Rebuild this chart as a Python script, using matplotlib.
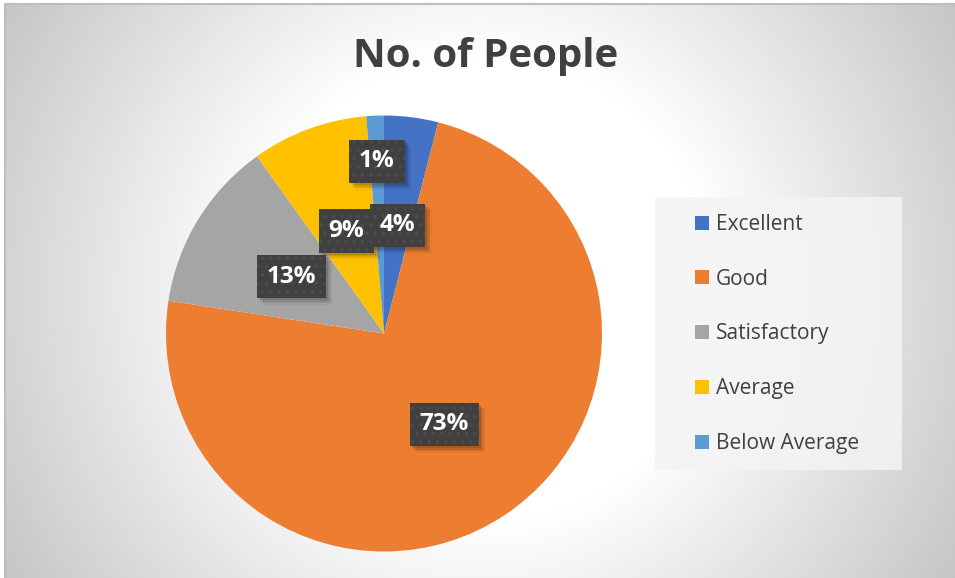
import numpy as np
import matplotlib.pyplot as plt
from matplotlib.patches import Rectangle

# Survey result shares (percent), clockwise from 12 o'clock
categories = ['Excellent', 'Good', 'Satisfactory', 'Average', 'Below Average']
shares = [4.0, 73.4, 12.7, 8.6, 1.3]
colors = ['#4472C4', '#ED7D31', '#A5A5A5', '#FFC000', '#5B9BD5']

W, H = 955, 578
fig = plt.figure(figsize=(W / 100, H / 100), dpi=100)
fig.patch.set_facecolor('white')

# radial grey background of the chart area
bg = fig.add_axes([5 / W, 0, 1 - 5 / W, 1 - 4 / H])
bg.set_axis_off()
yy, xx = np.mgrid[4:H, 5:W]
r = np.hypot(xx - 480, yy - 290)
shade = np.clip(0.96 - 0.0007 * (r - 290), 0, 1)
bg.imshow(np.dstack([shade] * 3), aspect='auto', extent=[0, 1, 0, 1])
bg.set_xlim(0, 1)
bg.set_ylim(0, 1)
# thin darker edge along top and left
bg.plot([0, 0, 1], [0, 1, 1], transform=bg.transAxes, color='#bdbdbd',
        linewidth=1.5, clip_on=False)

fig.text(486 / W, 1 - 57 / H, 'No. of People', ha='center', va='center',
         fontsize=29, fontweight='bold', color='#404040', family='Open Sans')

# pie axes: centre (384, 333), radius 218 px
cx, cy, R = 384, 333.5, 218
ax = fig.add_axes([(cx - R) / W, (H - cy - R) / H, 2 * R / W, 2 * R / H])
ax.set_axis_off()
wedges, texts, autotexts = ax.pie(shares, colors=colors, startangle=90,
                                  counterclock=False, autopct='%.0f%%',
                                  pctdistance=0.5, radius=1,
                                  wedgeprops=dict(linewidth=0))
ax.set_xlim(-1, 1)
ax.set_ylim(-1, 1)

# the thin "Below Average" slice gets its label further out
ang = np.deg2rad(90 - (sum(shares[:4]) + shares[4] / 2) * 3.6)
autotexts[4].set_position((0.79 * np.cos(ang), 0.79 * np.sin(ang)))

plt.rcParams['hatch.linewidth'] = 1.3
for t in autotexts:
    t.set_color('white')
    t.set(fontsize=17.5, fontweight='bold', family='Open Sans', zorder=10)
    t.set_bbox(dict(boxstyle='square,pad=0.4', facecolor='#404040',
                    edgecolor='#4b4b4b', linewidth=0, hatch='..'))

# soft drop shadow behind each label box: offset translucent rectangles
fig.canvas.draw()
for t in autotexts:
    bb = t.get_bbox_patch().get_window_extent()
    for d, a in [(2, 0.10), (3.5, 0.09), (5, 0.07), (6.5, 0.04)]:
        ax.add_patch(Rectangle(((bb.x0 + d) / W, (bb.y0 - d) / H),
                               bb.width / W, bb.height / H,
                               transform=fig.transFigure, clip_on=False,
                               facecolor='black', edgecolor='none',
                               alpha=a, zorder=5))

# legend panel
fig.patches.append(Rectangle((655 / W, 1 - 470 / H), 247 / W, 273 / H,
                             transform=fig.transFigure, facecolor='#f4f4f4',
                             edgecolor='none', alpha=0.85, zorder=1))
handles = [Rectangle((0, 0), 1, 1, facecolor=c) for c in colors]
leg = fig.legend(handles, categories, loc='center left',
                 bbox_to_anchor=(695 / W, 1 - 334 / H), frameon=False,
                 labelspacing=1.62, handlelength=0.65,
                 handleheight=0.65, handletextpad=0.35, borderpad=0,
                 borderaxespad=0, prop=dict(family='Open Sans', size=15))
for txt in leg.get_texts():
    txt.set_color('#404040')

fig.savefig('out.png', dpi=100, facecolor=fig.get_facecolor())
